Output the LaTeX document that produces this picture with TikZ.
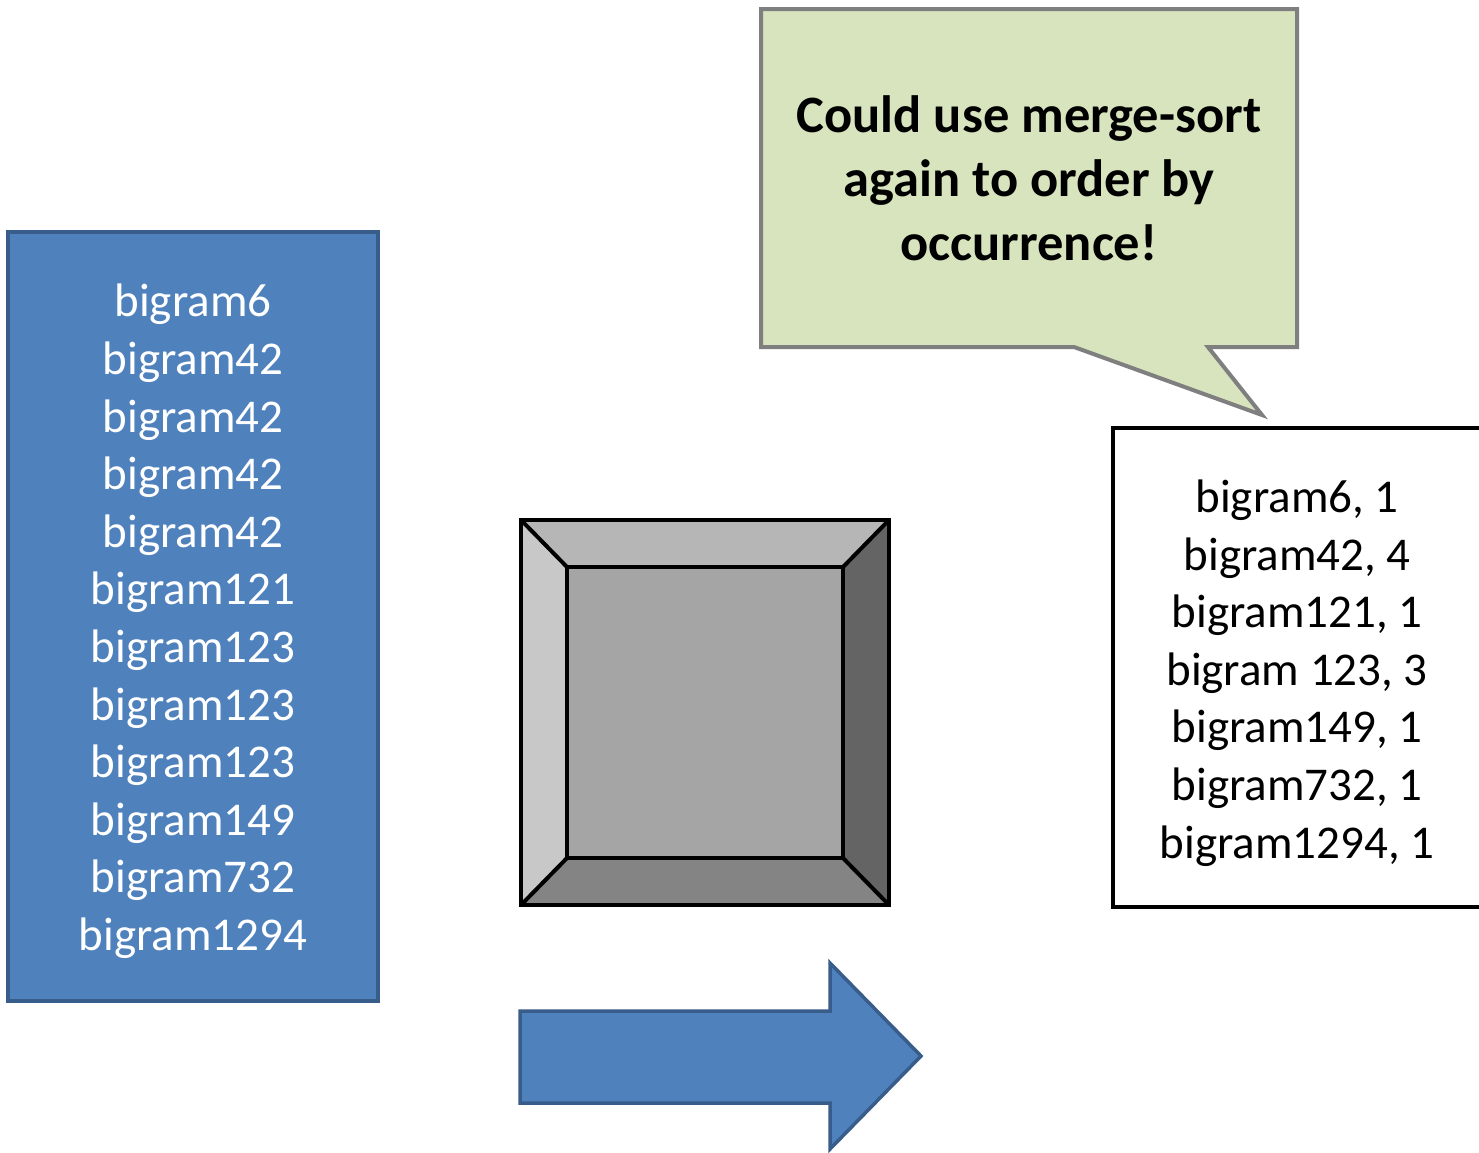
\documentclass[tikz,border=0pt]{standalone}
\usepackage{fontspec}
\setmainfont{Carlito}
\definecolor{boxblue}{HTML}{4F81BD}
\definecolor{boxblueedge}{HTML}{385D8A}
\definecolor{notegreen}{HTML}{D7E4BD}
\definecolor{notegray}{HTML}{7F7F7F}
\definecolor{bevtop}{HTML}{B6B6B6}
\definecolor{bevleft}{HTML}{C8C8C8}
\definecolor{bevright}{HTML}{646464}
\definecolor{bevbottom}{HTML}{848484}
\definecolor{bevface}{HTML}{A5A5A5}
\begin{document}
\begin{tikzpicture}[x=1pt,y=-1pt,line join=miter,
  listfont/.style={font=\fontsize{47}{57.6}\selectfont, align=center, inner sep=0pt},
  srcbox/.style={fill=boxblue, draw=boxblueedge, line width=3.5pt, inner sep=0pt},
  outbox/.style={fill=white, draw=black, line width=4pt, inner sep=0pt},
  notetext/.style={font=\bfseries\fontsize{52.5}{64}\selectfont, align=center, inner sep=0pt},
  noteshape/.style={fill=notegreen, draw=notegray, line width=4pt},
  bevedge/.style={draw=black, line width=4pt},
  bigarrow/.style={fill=boxblue, draw=boxblueedge, line width=3.5pt}]
\useasboundingbox (0,0) rectangle (1479,1152);
\fill[white] (0,0) rectangle (1479,1152);

% source list
\node[srcbox, minimum width=370pt, minimum height=769pt] (src) at (193,616.5) {};
\node[listfont, text=white] (srclist) at (193,621.5)
  {bigram6\\bigram42\\bigram42\\bigram42\\bigram42\\bigram121\\bigram123\\bigram123\\bigram123\\bigram149\\bigram732\\bigram1294};

% bevel box
\coordinate (o1) at (521,520); \coordinate (o2) at (889,520);
\coordinate (o3) at (889,905); \coordinate (o4) at (521,905);
\coordinate (i1) at (567,567); \coordinate (i2) at (843,567);
\coordinate (i3) at (843,858); \coordinate (i4) at (567,858);
\fill[bevtop] (o1) -- (o2) -- (i2) -- (i1) -- cycle;
\fill[bevleft] (o1) -- (i1) -- (i4) -- (o4) -- cycle;
\fill[bevright] (o2) -- (o3) -- (i3) -- (i2) -- cycle;
\fill[bevbottom] (o4) -- (i4) -- (i3) -- (o3) -- cycle;
\fill[bevface] (i1) -- (i2) -- (i3) -- (i4) -- cycle;
\draw[bevedge] (o1) -- (o2) -- (o3) -- (o4) -- cycle;
\draw[bevedge] (i1) -- (i2) -- (i3) -- (i4) -- cycle;
\draw[bevedge] (o1) -- (i1) (o2) -- (i2) (o3) -- (i3) (o4) -- (i4);

% big arrow
\draw[bigarrow] (520,1011) -- (830,1011) -- (830,963) -- (921,1056) -- (830,1149) -- (830,1103) -- (520,1103) -- cycle;

% output list
\node[outbox, minimum width=369pt, minimum height=479pt] (out) at (1297.5,667.5) {};
\node[listfont, text=black] (outlist) at (1297,673)
  {bigram6, 1\\bigram42, 4\\bigram121, 1\\bigram 123, 3\\bigram149, 1\\bigram732, 1\\bigram1294, 1};

% callout
\draw[noteshape] (761,9) -- (1297,9) -- (1297,347) -- (1208,347) -- (1262,415) -- (1074,347) -- (761,347) -- cycle;
\node[notetext] (note) at (1029,178.5) {Could use merge-sort\\again to order by\\occurrence!};
\end{tikzpicture}
\end{document}
